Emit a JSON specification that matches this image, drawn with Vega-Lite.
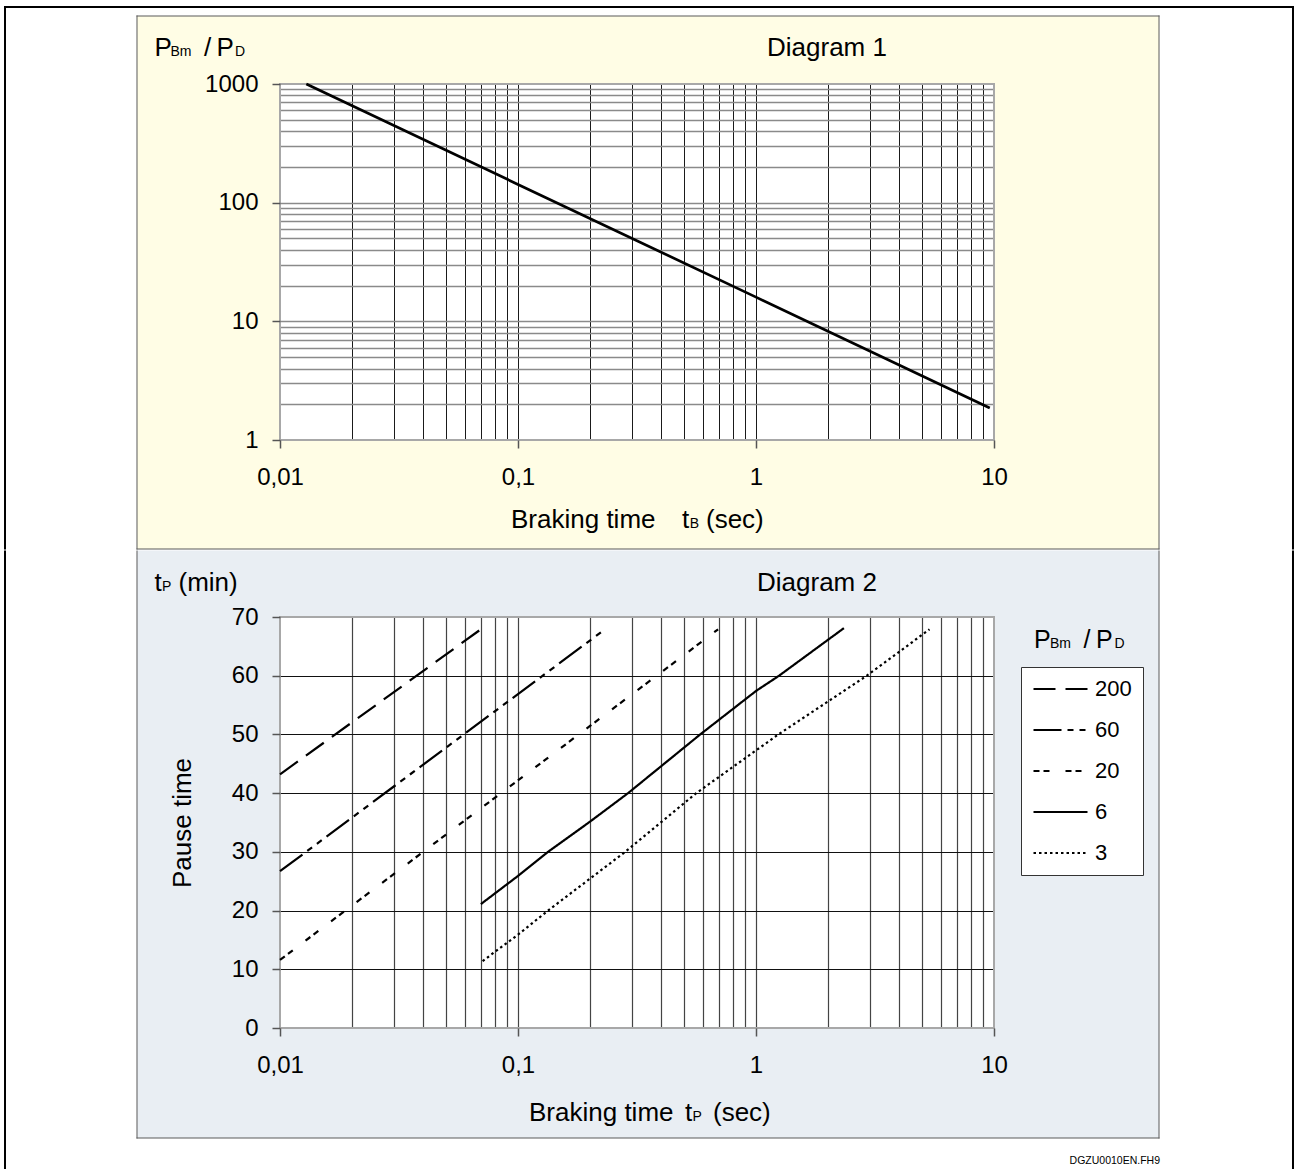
{
  "$schema": "https://vega.github.io/schema/vega-lite/v6.json",
  "padding": {"left": 4, "top": 6, "right": 0, "bottom": 0},
  "background": "white",
  "spacing": 0,
  "resolve": {"scale": {"strokeDash": "independent"}, "legend": {"strokeDash": "independent"}},
  "datasets": {
    "top": [
      {"t": 0.0129, "r": 1000},
      {"t": 0.1, "r": 142.5},
      {"t": 1, "r": 16},
      {"t": 9.6, "r": 1.86}
    ],
    "bottom": [
      {"ratio": "200", "t": 0.01, "p": 43.2},
      {"ratio": "200", "t": 0.0687, "p": 67.7},
      {"ratio": "60", "t": 0.01, "p": 26.7},
      {"ratio": "60", "t": 0.232, "p": 67.9},
      {"ratio": "20", "t": 0.01, "p": 11.6},
      {"ratio": "20", "t": 0.693, "p": 67.9},
      {"ratio": "6", "t": 0.0698, "p": 21.1},
      {"ratio": "6", "t": 0.1, "p": 25.9},
      {"ratio": "6", "t": 0.1337, "p": 30},
      {"ratio": "6", "t": 0.2, "p": 35.1},
      {"ratio": "6", "t": 0.29, "p": 40},
      {"ratio": "6", "t": 0.583, "p": 50},
      {"ratio": "6", "t": 1, "p": 57.4},
      {"ratio": "6", "t": 1.25, "p": 60},
      {"ratio": "6", "t": 2.34, "p": 68.1},
      {"ratio": "3", "t": 0.071, "p": 11.4},
      {"ratio": "3", "t": 0.1, "p": 15.9},
      {"ratio": "3", "t": 0.1337, "p": 20},
      {"ratio": "3", "t": 0.282, "p": 30},
      {"ratio": "3", "t": 0.561, "p": 40},
      {"ratio": "3", "t": 1.242, "p": 50},
      {"ratio": "3", "t": 2.92, "p": 60},
      {"ratio": "3", "t": 5.36, "p": 67.9}
    ]
  },
  "config": {
    "font": "Liberation Sans",
    "view": {"stroke": null, "fill": "white"},
    "axis": {
      "domain": false,
      "labelFont": "Liberation Sans",
      "labelColor": "black",
      "labelFontSize": 24,
      "tickSize": 8,
      "tickColor": "#555555",
      "tickWidth": 1.5,
      "labelOverlap": false,
      "labelFlush": false,
      "labelBound": false,
      "titleFont": "Liberation Sans",
      "titleColor": "black",
      "titleFontWeight": "normal",
      "titleFontSize": 26
    },
    "text": {"font": "Liberation Sans", "fontSize": 26, "color": "black", "baseline": "alphabetic", "align": "left"}
  },
  "vconcat": [
    {
      "width": 714,
      "height": 356,
      "data": {"values": [{}]},
      "resolve": {"axis": {"x": "independent", "y": "independent"}},
      "layer": [
        {
          "mark": {"type": "rect", "fill": "#FFFDE5"},
          "encoding": {
            "x": {
              "datum": 0.0025068, "type": "quantitative",
              "scale": {"type": "log", "domain": [0.01, 10], "nice": false},
              "axis": {
                "orient": "bottom", "zindex": 0, "title": null,
                "values": [0.01,0.02,0.03,0.04,0.05,0.06,0.07,0.08,0.09,0.1,0.2,0.3,0.4,0.5,0.6,0.7,0.8,0.9,1,2,3,4,5,6,7,8,9,10],
                "labels": false, "ticks": false, "domain": false,
                "grid": true, "gridColor": "#1a1a1a", "gridWidth": 1,
                "gridOpacity": {"condition": {"test": "datum.value == 0.01 || datum.value == 10", "value": 0}, "value": 1}
              }
            },
            "x2": {"datum": 49.352},
            "y": {
              "datum": 3741.3, "type": "quantitative",
              "scale": {"type": "log", "domain": [1, 1000], "nice": false},
              "axis": {
                "orient": "left", "zindex": 0, "title": null,
                "values": [1,2,3,4,5,6,7,8,9,10,20,30,40,50,60,70,80,90,100,200,300,400,500,600,700,800,900,1000],
                "labels": false, "ticks": false, "domain": false,
                "grid": true, "gridColor": "#8a8a8a", "gridWidth": 1.6,
                "gridOpacity": {"condition": {"test": "datum.value == 1 || datum.value == 1000", "value": 0}, "value": 1}
              }
            },
            "y2": {"datum": 1000}
          }
        },
        {"mark": {"type": "rect", "fill": "#FFFDE5"}, "encoding": {"x": {"datum": 0.0025068, "type": "quantitative", "axis": null}, "x2": {"datum": 49.352}, "y": {"datum": 1, "type": "quantitative", "axis": null}, "y2": {"datum": 0.120662}}},
        {
          "mark": {"type": "rect", "fill": "#FFFDE5"},
          "encoding": {
            "x": {
              "datum": 0.0025068, "type": "quantitative",
              "axis": {
                "orient": "bottom", "zindex": 1, "title": null, "grid": false,
                "values": [0.01,0.02,0.03,0.04,0.05,0.06,0.07,0.08,0.09,0.1,0.2,0.3,0.4,0.5,0.6,0.7,0.8,0.9,1,2,3,4,5,6,7,8,9,10],
                "labelExpr": "datum.value == 0.01 ? '0,01' : datum.value == 0.1 ? '0,1' : datum.value == 1 ? '1' : datum.value == 10 ? '10' : ''",
                "labelPadding": 17,
                "tickOpacity": {"condition": {"test": "datum.value == 0.01 || datum.value == 0.1 || datum.value == 1 || datum.value == 10", "value": 1}, "value": 0}
              }
            },
            "x2": {"datum": 0.01},
            "y": {
              "datum": 1000, "type": "quantitative",
              "axis": {
                "orient": "left", "zindex": 1, "title": null, "grid": false,
                "values": [1,2,3,4,5,6,7,8,9,10,20,30,40,50,60,70,80,90,100,200,300,400,500,600,700,800,900,1000],
                "labelExpr": "datum.value == 1 ? '1' : datum.value == 10 ? '10' : datum.value == 100 ? '100' : datum.value == 1000 ? '1000' : ''",
                "labelPadding": 14,
                "tickOpacity": {"condition": {"test": "datum.value == 1 || datum.value == 10 || datum.value == 100 || datum.value == 1000", "value": 1}, "value": 0}
              }
            },
            "y2": {"datum": 1}
          }
        },
        {"mark": {"type": "rect", "fill": "#FFFDE5"}, "encoding": {"x": {"datum": 10, "type": "quantitative", "axis": null}, "x2": {"datum": 49.352}, "y": {"datum": 1000, "type": "quantitative", "axis": null}, "y2": {"datum": 1}}},
        {"mark": {"type": "rect", "fill": "black"}, "encoding": {"x": {"datum": 0.0006924, "type": "quantitative", "axis": null}, "x2": {"datum": 182.17}, "y": {"datum": 4542.1, "type": "quantitative", "axis": null}, "y2": {"datum": 4369.6}}},
        {"mark": {"type": "rect", "fill": "black"}, "encoding": {"x": {"datum": 0.0006924, "type": "quantitative", "axis": null}, "x2": {"datum": 0.0007059}, "y": {"datum": 4542.1, "type": "quantitative", "axis": null}, "y2": {"datum": 0.119498}}},
        {"mark": {"type": "rect", "fill": "black"}, "encoding": {"x": {"datum": 178.68, "type": "quantitative", "axis": null}, "x2": {"datum": 182.17}, "y": {"datum": 4542.1, "type": "quantitative", "axis": null}, "y2": {"datum": 0.119498}}},
        {"mark": {"type": "rect", "fill": "#5a5a5a"}, "encoding": {"x": {"datum": 0.0024947, "type": "quantitative", "axis": null}, "x2": {"datum": 49.591}, "y": {"datum": 3777.7, "type": "quantitative", "axis": null}, "y2": {"datum": 3705.2}}},
        {"mark": {"type": "rect", "fill": "#5a5a5a"}, "encoding": {"x": {"datum": 0.0024947, "type": "quantitative", "axis": null}, "x2": {"datum": 0.002519}, "y": {"datum": 3777.7, "type": "quantitative", "axis": null}, "y2": {"datum": 0.119498}}},
        {"mark": {"type": "rect", "fill": "#5a5a5a"}, "encoding": {"x": {"datum": 49.114, "type": "quantitative", "axis": null}, "x2": {"datum": 49.591}, "y": {"datum": 3777.7, "type": "quantitative", "axis": null}, "y2": {"datum": 0.119498}}},
        {"mark": {"type": "rect", "fill": "#5a5a5a"}, "encoding": {"x": {"datum": 0.0024947, "type": "quantitative", "axis": null}, "x2": {"datum": 49.591}, "y": {"datum": 0.121837, "type": "quantitative", "axis": null}, "y2": {"datum": 0.119498}}},
        {"mark": {"type": "rect", "filled": false, "stroke": "#a8a8a8", "strokeWidth": 2}, "encoding": {"x": {"datum": 0.01, "type": "quantitative", "axis": null}, "x2": {"datum": 10}, "y": {"datum": 1, "type": "quantitative", "axis": null}, "y2": {"datum": 1000}}},
        {
          "data": {"name": "top"},
          "mark": {"type": "line", "strokeWidth": 2.7, "color": "black"},
          "encoding": {
            "x": {"field": "t", "type": "quantitative", "axis": null},
            "y": {"field": "r", "type": "quantitative", "axis": null}
          }
        },
        {"mark": {"type": "text", "text": "P", "dx": 0, "fontSize": 26}, "encoding": {"x": {"datum": 0.0029696, "type": "quantitative", "axis": null}, "y": {"datum": 1738.4, "type": "quantitative", "axis": null}}},
        {"mark": {"type": "text", "text": "Bm", "dx": 16, "fontSize": 14}, "encoding": {"x": {"datum": 0.0029696, "type": "quantitative", "axis": null}, "y": {"datum": 1738.4, "type": "quantitative", "axis": null}}},
        {"mark": {"type": "text", "text": "/", "dx": 49.5, "fontSize": 26}, "encoding": {"x": {"datum": 0.0029696, "type": "quantitative", "axis": null}, "y": {"datum": 1738.4, "type": "quantitative", "axis": null}}},
        {"mark": {"type": "text", "text": "P", "dx": 62, "fontSize": 26}, "encoding": {"x": {"datum": 0.0029696, "type": "quantitative", "axis": null}, "y": {"datum": 1738.4, "type": "quantitative", "axis": null}}},
        {"mark": {"type": "text", "text": "D", "dx": 80.5, "fontSize": 14}, "encoding": {"x": {"datum": 0.0029696, "type": "quantitative", "axis": null}, "y": {"datum": 1738.4, "type": "quantitative", "axis": null}}},
        {"mark": {"type": "text", "text": "Diagram 1", "align": "center", "fontSize": 26}, "encoding": {"x": {"datum": 1.9876, "type": "quantitative", "axis": null}, "y": {"datum": 1738.4, "type": "quantitative", "axis": null}}},
        {"mark": {"type": "text", "text": "Braking time", "dx": 0, "fontSize": 26}, "encoding": {"x": {"datum": 0.093452, "type": "quantitative", "axis": null}, "y": {"datum": 0.182415, "type": "quantitative", "axis": null}}},
        {"mark": {"type": "text", "text": "t", "dx": 171, "fontSize": 26}, "encoding": {"x": {"datum": 0.093452, "type": "quantitative", "axis": null}, "y": {"datum": 0.182415, "type": "quantitative", "axis": null}}},
        {"mark": {"type": "text", "text": "B", "dx": 178.7, "fontSize": 14}, "encoding": {"x": {"datum": 0.093452, "type": "quantitative", "axis": null}, "y": {"datum": 0.182415, "type": "quantitative", "axis": null}}},
        {"mark": {"type": "text", "text": "(sec)", "dx": 195, "fontSize": 26}, "encoding": {"x": {"datum": 0.093452, "type": "quantitative", "axis": null}, "y": {"datum": 0.182415, "type": "quantitative", "axis": null}}}
      ]
    },
    {
      "width": 714,
      "height": 411,
      "data": {"values": [{}]},
      "resolve": {"axis": {"x": "independent", "y": "independent"}},
      "layer": [
        {
          "mark": {"type": "rect", "fill": "#E9EEF3"},
          "encoding": {
            "x": {
              "datum": 0.0025068, "type": "quantitative",
              "scale": {"type": "log", "domain": [0.01, 10], "nice": false},
              "axis": {
                "orient": "bottom", "zindex": 0, "title": null,
                "values": [0.01,0.02,0.03,0.04,0.05,0.06,0.07,0.08,0.09,0.1,0.2,0.3,0.4,0.5,0.6,0.7,0.8,0.9,1,2,3,4,5,6,7,8,9,10],
                "labels": false, "ticks": false, "domain": false,
                "grid": true, "gridColor": "#444444", "gridWidth": 1.2,
                "gridOpacity": {"condition": {"test": "datum.value == 0.01 || datum.value == 10", "value": 0}, "value": 1}
              }
            },
            "x2": {"datum": 49.352},
            "y": {
              "datum": 81.326, "type": "quantitative",
              "scale": {"domain": [0, 70], "nice": false, "zero": false},
              "axis": {
                "orient": "left", "zindex": 0, "title": null,
                "values": [0,10,20,30,40,50,60,70],
                "labels": false, "ticks": false, "domain": false,
                "grid": true, "gridColor": "#111111", "gridWidth": 1,
                "gridOpacity": {"condition": {"test": "datum.value == 0 || datum.value == 70", "value": 0}, "value": 1}
              }
            },
            "y2": {"datum": 70}
          }
        },
        {"mark": {"type": "rect", "fill": "#E9EEF3"}, "encoding": {"x": {"datum": 0.0025068, "type": "quantitative", "axis": null}, "x2": {"datum": 49.352}, "y": {"datum": 0, "type": "quantitative", "axis": null}, "y2": {"datum": -18.7348}}},
        {
          "mark": {"type": "rect", "fill": "#E9EEF3"},
          "encoding": {
            "x": {
              "datum": 0.0025068, "type": "quantitative",
              "axis": {
                "orient": "bottom", "zindex": 1, "title": null, "grid": false,
                "values": [0.01,0.02,0.03,0.04,0.05,0.06,0.07,0.08,0.09,0.1,0.2,0.3,0.4,0.5,0.6,0.7,0.8,0.9,1,2,3,4,5,6,7,8,9,10],
                "labelExpr": "datum.value == 0.01 ? '0,01' : datum.value == 0.1 ? '0,1' : datum.value == 1 ? '1' : datum.value == 10 ? '10' : ''",
                "labelPadding": 17,
                "tickOpacity": {"condition": {"test": "datum.value == 0.01 || datum.value == 0.1 || datum.value == 1 || datum.value == 10", "value": 1}, "value": 0}
              }
            },
            "x2": {"datum": 0.01},
            "y": {
              "datum": 70, "type": "quantitative",
              "axis": {
                "orient": "left", "zindex": 1, "grid": false,
                "title": "Pause time",
                "titleX": -90,
                "titleY": 205.5,
                "titleAngle": 270,
                "titleBaseline": "alphabetic",
                "titleAlign": "center",
                "values": [0,10,20,30,40,50,60,70],
                "labelPadding": 14
              }
            },
            "y2": {"datum": 0}
          }
        },
        {"mark": {"type": "rect", "fill": "#E9EEF3"}, "encoding": {"x": {"datum": 10, "type": "quantitative", "axis": null}, "x2": {"datum": 49.352}, "y": {"datum": 70, "type": "quantitative", "axis": null}, "y2": {"datum": 0}}},
        {"mark": {"type": "rect", "fill": "black"}, "encoding": {"x": {"datum": 0.0006924, "type": "quantitative", "axis": null}, "x2": {"datum": 0.0007059}, "y": {"datum": 81.326, "type": "quantitative", "axis": null}, "y2": {"datum": -25.2068}}},
        {"mark": {"type": "rect", "fill": "black"}, "encoding": {"x": {"datum": 178.68, "type": "quantitative", "axis": null}, "x2": {"datum": 182.17}, "y": {"datum": 81.326, "type": "quantitative", "axis": null}, "y2": {"datum": -25.2068}}},
        {"mark": {"type": "rect", "fill": "#5a5a5a"}, "encoding": {"x": {"datum": 0.0024947, "type": "quantitative", "axis": null}, "x2": {"datum": 0.002519}, "y": {"datum": 81.326, "type": "quantitative", "axis": null}, "y2": {"datum": -18.82}}},
        {"mark": {"type": "rect", "fill": "#5a5a5a"}, "encoding": {"x": {"datum": 49.114, "type": "quantitative", "axis": null}, "x2": {"datum": 49.591}, "y": {"datum": 81.326, "type": "quantitative", "axis": null}, "y2": {"datum": -18.82}}},
        {"mark": {"type": "rect", "fill": "#5a5a5a"}, "encoding": {"x": {"datum": 0.0024947, "type": "quantitative", "axis": null}, "x2": {"datum": 49.591}, "y": {"datum": -18.6496, "type": "quantitative", "axis": null}, "y2": {"datum": -18.82}}},
        {"mark": {"type": "rect", "filled": false, "stroke": "#a8a8a8", "strokeWidth": 2}, "encoding": {"x": {"datum": 0.01, "type": "quantitative", "axis": null}, "x2": {"datum": 10}, "y": {"datum": 0, "type": "quantitative", "axis": null}, "y2": {"datum": 70}}},
        {
          "data": {"name": "bottom"},
          "mark": {"type": "line", "strokeWidth": 2.2, "color": "black"},
          "encoding": {
            "x": {"field": "t", "type": "quantitative", "axis": null},
            "y": {"field": "p", "type": "quantitative", "axis": null},
            "strokeDash": {
              "field": "ratio", "type": "nominal",
              "scale": {"domain": ["200", "60", "20", "6", "3"], "range": [[22, 10], [28, 6, 6, 6, 6, 6], [6, 4, 6, 16], [1, 0], [2.5, 3]]},
              "legend": {
                "orient": "none",
                "legendX": 741,
                "legendY": 50,
                "direction": "vertical",
                "title": null,
                "fillColor": "white",
                "strokeColor": "#333333",
                "padding": 11,
                "symbolType": "stroke",
                "symbolSize": 2916,
                "clipHeight": 22,
                "symbolStrokeWidth": 2.2,
                "symbolStrokeColor": "black",
                "labelFont": "Liberation Sans",
                "labelFontSize": 22,
                "labelColor": "black",
                "labelOffset": 6,
                "rowPadding": 19,
                "labelLimit": 0
              }
            }
          }
        },
        {"mark": {"type": "text", "text": "t", "dx": 0, "fontSize": 26}, "encoding": {"x": {"datum": 0.0029696, "type": "quantitative", "axis": null}, "y": {"datum": 74.3431, "type": "quantitative", "axis": null}}},
        {"mark": {"type": "text", "text": "P", "dx": 7.5, "fontSize": 14}, "encoding": {"x": {"datum": 0.0029696, "type": "quantitative", "axis": null}, "y": {"datum": 74.3431, "type": "quantitative", "axis": null}}},
        {"mark": {"type": "text", "text": "(min)", "dx": 24, "fontSize": 26}, "encoding": {"x": {"datum": 0.0029696, "type": "quantitative", "axis": null}, "y": {"datum": 74.3431, "type": "quantitative", "axis": null}}},
        {"mark": {"type": "text", "text": "Diagram 2", "align": "center", "fontSize": 26}, "encoding": {"x": {"datum": 1.8043, "type": "quantitative", "axis": null}, "y": {"datum": 74.3431, "type": "quantitative", "axis": null}}},
        {"mark": {"type": "text", "text": "Braking time", "dx": 0, "fontSize": 26}, "encoding": {"x": {"datum": 0.111236, "type": "quantitative", "axis": null}, "y": {"datum": -15.8394, "type": "quantitative", "axis": null}}},
        {"mark": {"type": "text", "text": "t", "dx": 156, "fontSize": 26}, "encoding": {"x": {"datum": 0.111236, "type": "quantitative", "axis": null}, "y": {"datum": -15.8394, "type": "quantitative", "axis": null}}},
        {"mark": {"type": "text", "text": "P", "dx": 163.5, "fontSize": 14}, "encoding": {"x": {"datum": 0.111236, "type": "quantitative", "axis": null}, "y": {"datum": -15.8394, "type": "quantitative", "axis": null}}},
        {"mark": {"type": "text", "text": "(sec)", "dx": 184, "fontSize": 26}, "encoding": {"x": {"datum": 0.111236, "type": "quantitative", "axis": null}, "y": {"datum": -15.8394, "type": "quantitative", "axis": null}}},
        {"mark": {"type": "text", "text": "P", "dx": 0, "fontSize": 25}, "encoding": {"x": {"datum": 14.7255, "type": "quantitative", "axis": null}, "y": {"datum": 64.7713, "type": "quantitative", "axis": null}}},
        {"mark": {"type": "text", "text": "Bm", "dx": 16, "fontSize": 14}, "encoding": {"x": {"datum": 14.7255, "type": "quantitative", "axis": null}, "y": {"datum": 64.7713, "type": "quantitative", "axis": null}}},
        {"mark": {"type": "text", "text": "/", "dx": 49.5, "fontSize": 25}, "encoding": {"x": {"datum": 14.7255, "type": "quantitative", "axis": null}, "y": {"datum": 64.7713, "type": "quantitative", "axis": null}}},
        {"mark": {"type": "text", "text": "P", "dx": 62, "fontSize": 25}, "encoding": {"x": {"datum": 14.7255, "type": "quantitative", "axis": null}, "y": {"datum": 64.7713, "type": "quantitative", "axis": null}}},
        {"mark": {"type": "text", "text": "D", "dx": 80.5, "fontSize": 14}, "encoding": {"x": {"datum": 14.7255, "type": "quantitative", "axis": null}, "y": {"datum": 64.7713, "type": "quantitative", "axis": null}}},
        {"mark": {"type": "text", "text": "DGZU0010EN.FH9", "align": "right", "fontSize": 10.5}, "encoding": {"x": {"datum": 49.829, "type": "quantitative", "axis": null}, "y": {"datum": -23.0779, "type": "quantitative", "axis": null}}}
      ]
    }
  ]
}
